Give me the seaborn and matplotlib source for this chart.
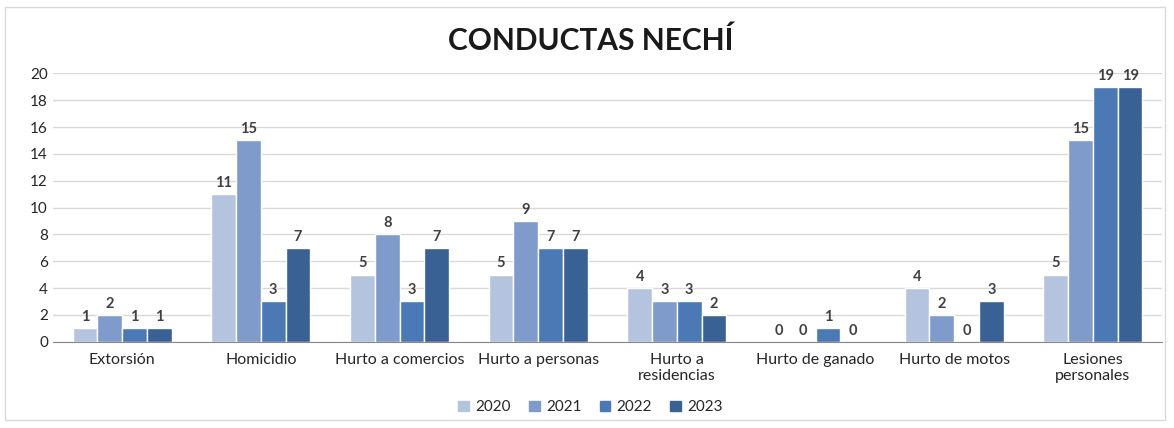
import pandas as pd
import seaborn as sns
import matplotlib.pyplot as plt
import matplotlib.patches as mpatches

# Data
categorias = ['Extorsión', 'Homicidio', 'Hurto a comercios', 'Hurto a personas',
              'Hurto a\nresidencias', 'Hurto de ganado', 'Hurto de motos',
              'Lesiones\npersonales']
anios = ['2020', '2021', '2022', '2023']
v2020 = [1, 11, 5, 5, 4, 0, 4, 5]
v2021 = [2, 15, 8, 9, 3, 0, 2, 15]
v2022 = [1, 3, 3, 7, 3, 1, 0, 19]
v2023 = [1, 7, 7, 7, 2, 0, 3, 19]
colores = ['#b4c4df', '#7e9bcb', '#4a79b6', '#3a6194']

# Long-form table for seaborn
filas = []
for anio, vals in zip(anios, [v2020, v2021, v2022, v2023]):
    for cat, v in zip(categorias, vals):
        filas.append({'Conducta': cat, 'Año': anio, 'Casos': v})
df = pd.DataFrame(filas)

sns.set_style('white')
plt.rcParams['font.family'] = ['Lato', 'DejaVu Sans']

fig = plt.figure(figsize=(11.74, 4.28), dpi=100)
ax = fig.add_axes([0.045, 0.2016, 0.945, 0.627])

sns.barplot(data=df, x='Conducta', y='Casos', hue='Año', order=categorias,
            hue_order=anios, palette=colores, width=0.715, dodge=True,
            saturation=1, gap=0, ax=ax, errorbar=None)

# Data labels
for cont in ax.containers:
    ax.bar_label(cont, fmt='%d', padding=3, fontsize=10.5, fontweight='bold',
                 color='#404040')

ax.set_xlim(-0.5, 7.5)
ax.set_ylim(0, 20)
ax.set_yticks(range(0, 21, 2))
ax.yaxis.grid(True, color='#d9d9d9', linewidth=1)
ax.set_axisbelow(True)
for s in ['top', 'right', 'left']:
    ax.spines[s].set_visible(False)
ax.spines['bottom'].set_color('#888888')
ax.tick_params(axis='both', length=0, labelsize=11, colors='#262626')
ax.tick_params(axis='x', pad=8, labelsize=11.5)
ax.set_xlabel('')
ax.set_ylabel('')

fig.text(0.503, 0.905, 'CONDUCTAS NECHÍ', ha='center', va='center',
         fontsize=21.5, fontweight='bold', color='#1a1a1a')

handles = [mpatches.Patch(color=c, label=a) for c, a in zip(colores, anios)]
ax.legend(handles=handles, loc='center', bbox_to_anchor=(0.503, 0.048),
          bbox_transform=fig.transFigure, ncol=4, frameon=False, fontsize=11,
          handlelength=0.7, handleheight=0.7, handletextpad=0.4,
          columnspacing=1.2)

# Outer border of the chart area
fig.patches.append(mpatches.Rectangle((0.004, 0.018), 0.988, 0.965,
                                      transform=fig.transFigure, fill=False,
                                      edgecolor='#d9d9d9', linewidth=1))

fig.savefig('out.png', dpi=100)
